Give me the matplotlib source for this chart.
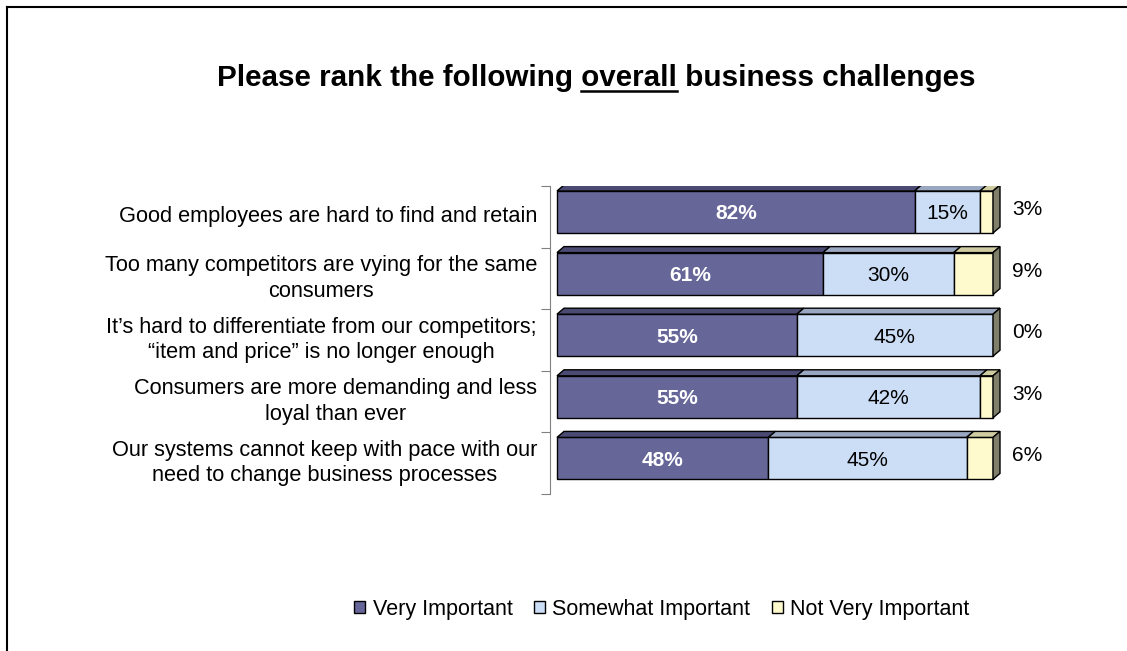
import numpy as np
import matplotlib
matplotlib.use('Agg')

import matplotlib.pyplot as plt
from matplotlib.patches import Polygon, Patch
from matplotlib.lines import Line2D

plt.rcParams['font.family'] = ['Liberation Sans', 'DejaVu Sans']

categories = [
    "Good employees are hard to find and retain",
    "Too many competitors are vying for the same\nconsumers",
    "It\u2019s hard to differentiate from our competitors;\n\u201citem and price\u201d is no longer enough",
    "Consumers are more demanding and less\nloyal than ever",
    "Our systems cannot keep with pace with our\nneed to change business processes",
]
series = ["Very Important", "Somewhat Important", "Not Very Important"]
very = [82, 61, 55, 55, 48]
somewhat = [15, 30, 45, 42, 45]
not_very = [3, 9, 0, 3, 6]

front = ['#666699', '#CCDDF6', '#FFFACD']
top = ['#4A4A72', '#9AA7C0', '#D0CCA2']
side = '#7F7F6A'

W, H = 1127, 651
fig = plt.figure(figsize=(W / 100, H / 100), dpi=100)

# axes placed in pixel terms: 0% at x=557, 100% at x=993
ax_l, ax_r, ax_t, ax_b = 550, 1060, 186, 494
ax = fig.add_axes([ax_l / W, 1 - ax_b / H, (ax_r - ax_l) / W, (ax_b - ax_t) / H])
px = 4.36
x0 = -(557 - ax_l) / px
ax.set_xlim(x0, x0 + (ax_r - ax_l) / px)
ax.set_ylim(len(categories) - 0.5, -0.5)
py = (ax_b - ax_t) / len(categories)

bar_h = 42 / py
off = -4.8 / py
dx = 7 / px
dy = 6 / py

data = np.array([very, somewhat, not_very], dtype=float)
share = data / data.sum(axis=0) * 100  # 100% stacked

for i in range(len(categories)):
    yc = i + off
    yt = yc - bar_h / 2
    yb = yc + bar_h / 2
    left = 0.0
    for s in range(3):
        w = share[s, i]
        if w <= 0:
            continue
        ax.barh(yc, w, left=left, height=bar_h, color=front[s],
                edgecolor='black', linewidth=1, zorder=2)
        ax.add_patch(Polygon([(left, yt), (left + w, yt), (left + w + dx, yt - dy),
                              (left + dx, yt - dy)], closed=True, facecolor=top[s],
                             edgecolor='black', linewidth=1, zorder=2))
        left += w
    ax.add_patch(Polygon([(left, yt), (left + dx, yt - dy), (left + dx, yb - dy),
                          (left, yb)], closed=True, facecolor=side,
                         edgecolor='black', linewidth=1, zorder=2))

    ax.text(share[0, i] / 2, yc + 0.03, '%d%%' % very[i], ha='center', va='center',
            color='white', fontsize=15, fontweight='bold', zorder=3)
    ax.text(share[0, i] + share[1, i] / 2, yc + 0.03, '%d%%' % somewhat[i],
            ha='center', va='center', color='black', fontsize=15, zorder=3)
    ax.text(107.8, yc - 0.04, '%d%%' % not_very[i], ha='center', va='center',
            color='black', fontsize=15, zorder=3)
    ax.text(x0 - 13 / px, i, categories[i], ha='right', va='center',
            multialignment='center', fontsize=15.7, linespacing=1.27)

for sp in ['top', 'right', 'bottom']:
    ax.spines[sp].set_visible(False)
ax.spines['left'].set_color('#808080')
ax.set_xticks([])
ax.set_yticks(np.arange(-0.5, len(categories), 1.0))
ax.set_yticklabels([])
ax.tick_params(axis='y', direction='out', length=6.5, color='#808080')
ax.patch.set_visible(False)

# title, with "overall" underlined
tfs = 21.3
tx, ty = 596 / W, 1 - 78 / H
title = fig.text(tx, ty, "Please rank the following overall business challenges",
                 ha='center', va='center', fontsize=tfs, fontweight='bold')
fig.canvas.draw()
r = fig.canvas.get_renderer()
bb = title.get_window_extent(r)
def _w(s):
    t = fig.text(0, 0, s, fontsize=tfs, fontweight='bold')
    w = t.get_window_extent(r).width
    t.remove()
    return w
u_end = bb.x0 + _w("Please rank the following overall")
u_start = u_end - _w("overall")
uy = bb.y0 + 1
fig.add_artist(Line2D([u_start / W, u_end / W], [uy / H, uy / H], color='black', lw=1.8))

handles = [Patch(facecolor=c, edgecolor='black', linewidth=1) for c in front]
fig.legend(handles, series, loc='center', bbox_to_anchor=(662 / W, 1 - 609 / H),
           ncol=3, frameon=False, fontsize=15.5, handlelength=0.5, handleheight=0.5,
           handletextpad=0.35, columnspacing=1.0)

# outer frame on left and top
fig.add_artist(Line2D([7 / W, 7 / W], [0, 1 - 7 / H], color='black', lw=1.5))
fig.add_artist(Line2D([7 / W, 1], [1 - 7 / H, 1 - 7 / H], color='black', lw=1.5))

fig.savefig('out.png', dpi=100)
